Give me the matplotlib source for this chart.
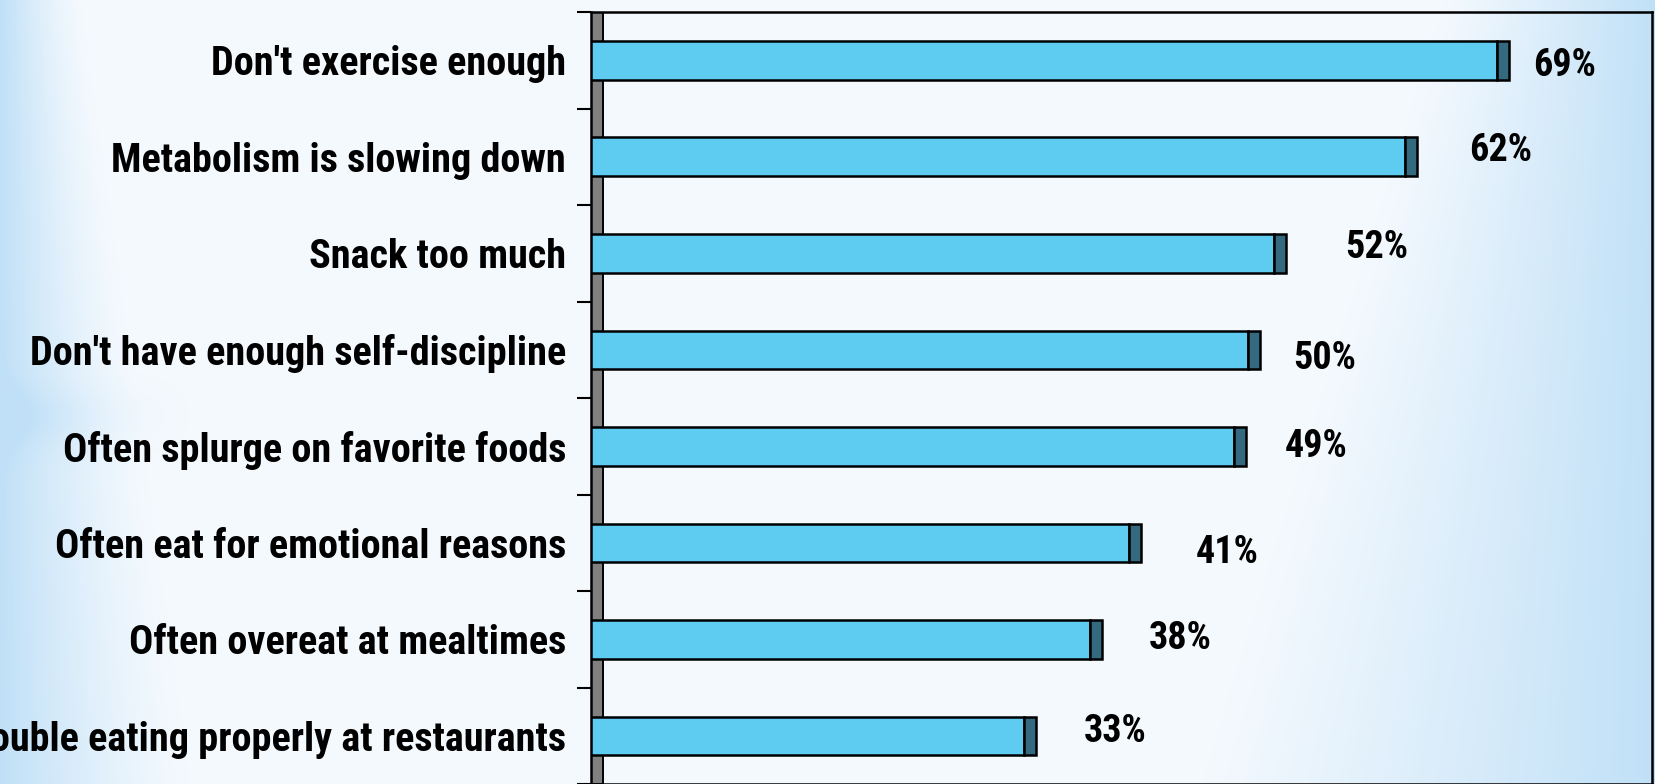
import numpy as np
import matplotlib
matplotlib.use("Agg")
import matplotlib.pyplot as plt
from matplotlib import font_manager as fm
from matplotlib.patches import Rectangle

categories = [
    "Don't exercise enough",
    "Metabolism is slowing down",
    "Snack too much",
    "Don't have enough self-discipline",
    "Often splurge on favorite foods",
    "Often eat for emotional reasons",
    "Often overeat at mealtimes",
    "Have trouble eating properly at restaurants",
]
values = [69, 62, 52, 50, 49, 41, 38, 33]
value_labels = [f"{v}%" for v in values]

# per-label nudges in pixels: x from the bar end, y from the bar centre (up positive)
label_dx = [68, 96, 103, 77, 82, 98, 90, 91]
label_dy = [-0.5, 11, 10.5, -4, 4.5, -5, 5, 9]

W, H, DPI = 1656, 784, 100


def pick_font():
    """Prefer a narrow sans face; fall back to a compact regular one."""
    names = {f.name for f in fm.fontManager.ttflist}
    for cand in ["Liberation Sans Narrow", "Roboto Condensed", "Open Sans Condensed",
                 "Noto Sans Condensed", "DejaVu Sans Condensed", "Arial Narrow"]:
        if cand in names:
            return cand, "normal"
    for f in fm.fontManager.ttflist:
        fname = f.fname.lower()
        if ("condensed" in fname or "narrow" in fname) and "mono" not in fname \
                and "serif" not in fname and "cjk" not in fname:
            return f.name, f.stretch
    for cand in ["Roboto", "Lato", "Noto Sans"]:
        if cand in names:
            return cand, "normal"
    return "DejaVu Sans", "normal"


FONT, STRETCH = pick_font()
FAMILY = [FONT, "DejaVu Sans"]

fig = plt.figure(figsize=(W / DPI, H / DPI), dpi=DPI)
renderer = fig.canvas.get_renderer()


def fitted_size(text, target_px, base=29.0):
    t = fig.text(0, 0, text, fontsize=base, fontweight="bold", family=FAMILY,
                 fontstretch=STRETCH)
    w = t.get_window_extent(renderer).width
    t.remove()
    return base * min(1.0, target_px / w)


cat_size = fitted_size(categories[0], 372)
val_size = fitted_size("52%", 63)

# soft blue backdrop: pale centre, bluish left and right edges
bg = fig.add_axes([0, 0, 1, 1], zorder=-10)
ny, nx = 200, 400
u = np.linspace(0, 1, nx)[None, :]
t = np.linspace(0, 1, ny)[:, None]
left_w = np.clip(1 - u / (0.05 + 0.07 * t), 0, 1) ** 1.4
band = np.exp(-((t - 0.53) / 0.04) ** 2) * np.clip(1 - u / 0.12, 0, 1) * 0.3
start = 0.87 - 0.15 * t
right_w = np.clip((u - start) / (1 - start), 0, 1) ** 1.1
w = np.clip(left_w + band + right_w, 0, 1)
pale = np.array([0.960, 0.978, 0.996])
blue = np.array([0.755, 0.880, 0.970])
img = pale[None, None, :] * (1 - w[..., None]) + blue[None, None, :] * w[..., None]
bg.imshow(img, aspect="auto", extent=[0, 1, 0, 1], interpolation="bicubic")
bg.set_axis_off()

x0, x1 = 591, 1652
px_per_unit = 13.13
ax = fig.add_axes([x0 / W, -0.3 / H, (x1 - x0) / W, 772.3 / H])
ax.set_facecolor("none")
n = len(categories)
ypos = np.arange(n)
ax.set_xlim(0, (x1 - x0) / px_per_unit)
ax.set_ylim(n - 0.5, -0.5)

# grey side wall of the 3-D frame
wall_w = 12 / px_per_unit
ax.add_patch(Rectangle((0, -0.5), wall_w, n, facecolor="#808080",
                       edgecolor="black", linewidth=1.4, zorder=1))

bar_h = 0.40
cap_w = 12 / px_per_unit
ax.barh(ypos, values, height=bar_h, color="#5ecbf1", edgecolor="black",
        linewidth=1.8, zorder=3)
ax.barh(ypos, [cap_w] * n, left=values, height=bar_h, color="#336a80",
        edgecolor="black", linewidth=1.8, zorder=3)

for i, (v, lab) in enumerate(zip(values, value_labels)):
    ax.annotate(lab, xy=(v, i), xytext=(label_dx[i], label_dy[i] - 15),
                textcoords="offset pixels", ha="center", va="baseline",
                fontsize=val_size, fontweight="bold", family=FAMILY,
                fontstretch=STRETCH, color="black",
                annotation_clip=False, zorder=5)

# boundary ticks between categories, category names as minor labels
ax.set_yticks(np.arange(-0.5, n, 1.0))
ax.set_yticklabels([])
ax.tick_params(axis="y", which="major", length=10, width=1.5, direction="out")
ax.set_yticks(ypos, minor=True)
ax.set_yticklabels(categories, minor=True, fontsize=cat_size, fontweight="bold",
                   family=FAMILY, fontstretch=STRETCH)
ax.tick_params(axis="y", which="minor", length=0, pad=18)
ax.set_xticks([])

for side in ["left", "top", "right", "bottom"]:
    ax.spines[side].set_linewidth(1.8)
    ax.spines[side].set_color("black")

fig.savefig("out.png", dpi=DPI)
